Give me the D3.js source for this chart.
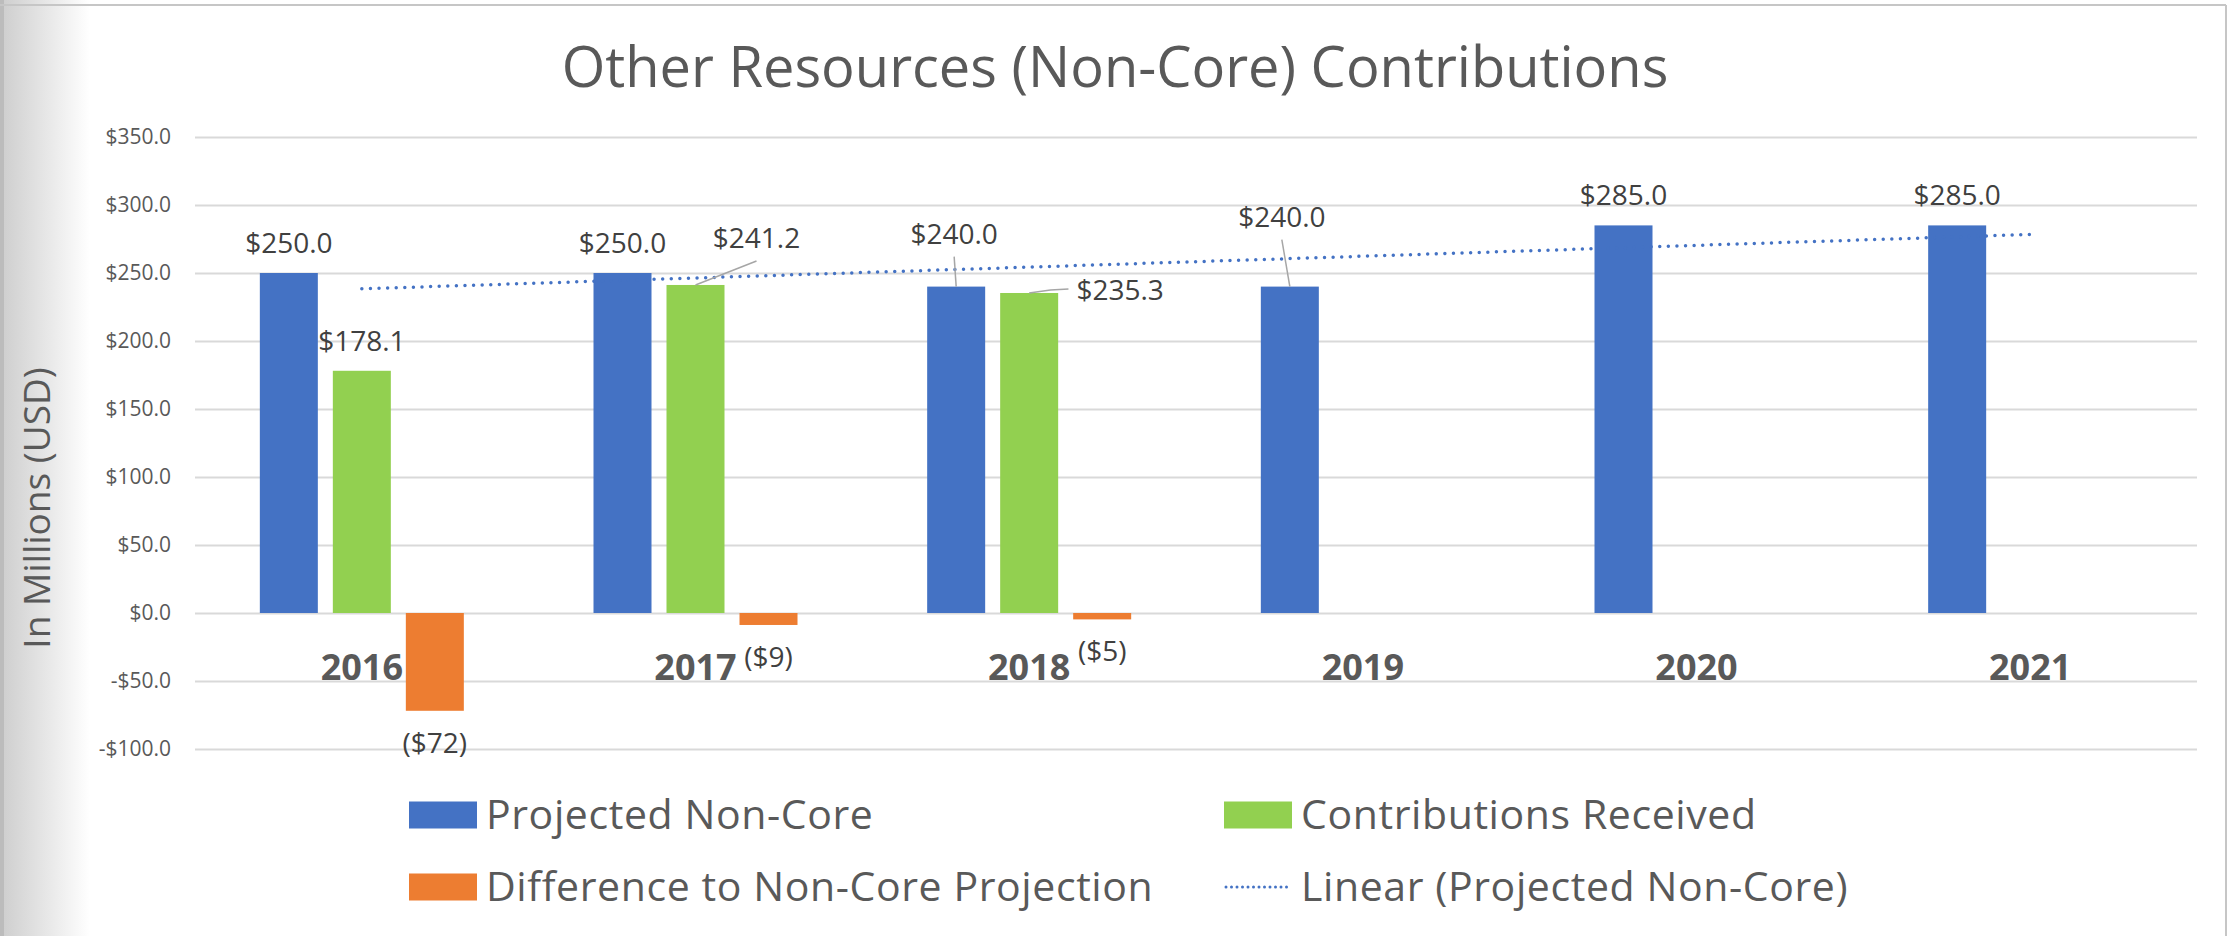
<!DOCTYPE html>
<html>
<head>
<meta charset="utf-8">
<script src="https://cdn.jsdelivr.net/npm/d3@7"></script>
<style>
  html, body { margin: 0; padding: 0; background: #fff; }
  svg { display: block; font-family: "Open Sans", sans-serif; }
</style>
</head>
<body>
<svg id="chart"></svg>
<script>
// values (USD millions)
const years = ["2016", "2017", "2018", "2019", "2020", "2021"];
const projected = [250.0, 250.0, 240.0, 240.0, 285.0, 285.0];
const received = [178.1, 241.2, 235.3, null, null, null];
const difference = [-71.9, -8.8, -4.7, null, null, null];
const yTicks = [-100, -50, 0, 50, 100, 150, 200, 250, 300, 350];

const seriesNames = ["Projected Non-Core", "Contributions Received", "Difference to Non-Core Projection"];
const seriesColors = ["#4472C4", "#92D050", "#ED7D31"];
const trendName = "Linear (Projected Non-Core)";

// labels that were dragged away from the bar in the original, with a leader line
const labelNudge = {
  "0-2018": { dx: -2, dy: -23, leader: "bottom" },
  "0-2019": { dx: -8, dy: -40, leader: "bottom" },
  "1-2017": { dx: 61, dy: -17, leader: "bottom" },
  "1-2018": { dx: 91, dy: 27, leader: "left" }
};

const width = 2231, height = 936;
const plot = { left: 195, right: 2197, top: 137, bottom: 749 };

const svg = d3.select("#chart").attr("width", width).attr("height", height);

// page frame / shadow like the screenshot
const defs = svg.append("defs");
const grad = defs.append("linearGradient").attr("id", "shade").attr("x1", 0).attr("x2", 1);
grad.append("stop").attr("offset", 0).attr("stop-color", "#cdcdcd");
grad.append("stop").attr("offset", 1).attr("stop-color", "#ffffff");
svg.append("rect").attr("x", 0).attr("y", 0).attr("width", 90).attr("height", height).attr("fill", "url(#shade)");
svg.append("rect").attr("x", 0).attr("y", 0).attr("width", 4).attr("height", height).attr("fill", "#bcbcbc");
svg.append("line").attr("x1", 0).attr("x2", 2226).attr("y1", 5).attr("y2", 5).attr("stroke", "#c6c6c6").attr("stroke-width", 2);
svg.append("line").attr("x1", 2226).attr("x2", 2226).attr("y1", 5).attr("y2", height).attr("stroke", "#c6c6c6").attr("stroke-width", 2);

// scales
const x = d3.scaleBand().domain(years).range([plot.left, plot.right]);
const groupW = 204;
const xInner = d3.scaleBand().domain(d3.range(3))
  .range([(x.bandwidth() - groupW) / 2, (x.bandwidth() + groupW) / 2])
  .paddingInner(15 / 73);
const y = d3.scaleLinear().domain([-100, 350]).range([plot.bottom, plot.top]);
const xMid = yr => x(yr) + x.bandwidth() / 2;

// title
svg.append("text")
  .attr("x", 1115).attr("y", 87)
  .attr("text-anchor", "middle")
  .attr("font-size", 56)
  .attr("fill", "#595959")
  .text("Other Resources (Non-Core) Contributions");

// y axis + gridlines
const gY = svg.append("g").attr("transform", `translate(${plot.left},0)`)
  .call(d3.axisLeft(y).tickValues(yTicks)
    .tickSize(-(plot.right - plot.left)).tickPadding(24)
    .tickFormat(d => (d < 0 ? "-$" : "$") + d3.format(".1f")(Math.abs(d))));
gY.select(".domain").remove();
gY.selectAll(".tick line").attr("stroke", "#d9d9d9").attr("stroke-width", 2);
gY.selectAll(".tick text").attr("font-size", 21).attr("fill", "#595959").attr("font-family", "Open Sans");

svg.append("text")
  .attr("transform", "translate(50,508) rotate(-90)")
  .attr("text-anchor", "middle")
  .attr("font-size", 37)
  .attr("fill", "#595959")
  .text("In Millions (USD)");

// bars
const allSeries = [projected, received, difference];
const gBars = svg.append("g");
allSeries.forEach((vals, s) => {
  const pts = years.map((yr, i) => ({ yr, v: vals[i] })).filter(d => d.v != null);
  gBars.selectAll(null).data(pts).join("rect")
    .attr("x", d => x(d.yr) + xInner(s))
    .attr("width", xInner.bandwidth())
    .attr("y", d => y(Math.max(0, d.v)))
    .attr("height", d => Math.abs(y(d.v) - y(0)))
    .attr("fill", seriesColors[s]);
});

// category labels
svg.append("g").selectAll("text").data(years).join("text")
  .attr("x", d => xMid(d))
  .attr("y", 680)
  .attr("text-anchor", "middle")
  .attr("font-size", 36)
  .attr("font-weight", 700)
  .attr("fill", "#595959")
  .text(d => d);

// linear trendline of projected (least squares, like Excel)
const xs = d3.range(1, projected.length + 1);
const mx = d3.mean(xs), my = d3.mean(projected);
const slope = d3.sum(xs, (v, i) => (v - mx) * (projected[i] - my)) / d3.sum(xs, v => (v - mx) ** 2);
const icpt = my - slope * mx;
const trendPts = [0, years.length - 1].map(i => [xMid(years[i]), y(icpt + slope * xs[i])]);
svg.append("path")
  .attr("d", d3.line()(trendPts))
  .attr("fill", "none")
  .attr("stroke", "#4472C4")
  .attr("stroke-width", 3.5)
  .attr("stroke-linecap", "round")
  .attr("stroke-dasharray", "0 8.6");

// data labels
const fmtPos = v => "$" + d3.format(".1f")(v);
const fmtNeg = v => "($" + Math.round(Math.abs(v)) + ")";
const gLabels = svg.append("g");
allSeries.forEach((vals, s) => {
  years.forEach((yr, i) => {
    const v = vals[i];
    if (v == null) return;
    const cx = x(yr) + xInner(s) + xInner.bandwidth() / 2;
    const barEnd = y(v);
    let lx = cx, ly = v >= 0 ? barEnd - 20 : barEnd + 42;
    const nudge = labelNudge[s + "-" + yr];
    if (nudge) { lx += nudge.dx; ly += nudge.dy; }
    const t = gLabels.append("text")
      .attr("x", lx).attr("y", ly)
      .attr("text-anchor", "middle")
      .attr("font-size", 28)
      .attr("fill", "#404040")
      .text(v >= 0 ? fmtPos(v) : fmtNeg(v));
    if (nudge) {
      const w = t.node().getComputedTextLength();
      let p;
      if (nudge.leader === "bottom") {
        p = `M${lx},${ly + 13}L${cx},${barEnd}`;
      } else {
        const left = lx - w / 2 - 8;
        p = `M${cx},${barEnd}L${left - 18},${ly - 10}L${left},${ly - 11}`;
      }
      gLabels.append("path").attr("d", p).attr("fill", "none")
        .attr("stroke", "#a6a6a6").attr("stroke-width", 1.5);
    }
  });
});

// legend
const legendItems = [
  { name: seriesNames[0], color: seriesColors[0], x: 409, y: 815 },
  { name: seriesNames[1], color: seriesColors[1], x: 1224, y: 815 },
  { name: seriesNames[2], color: seriesColors[2], x: 409, y: 887 },
  { name: trendName, color: "#4472C4", x: 1224, y: 887, dotted: true }
];
const lg = svg.append("g").selectAll("g").data(legendItems).join("g")
  .attr("transform", d => `translate(${d.x},${d.y})`);
lg.filter(d => !d.dotted).append("rect")
  .attr("x", 0).attr("y", -13.5).attr("width", 68).attr("height", 27)
  .attr("fill", d => d.color);
lg.filter(d => d.dotted).append("line")
  .attr("x1", 2).attr("x2", 66).attr("y1", 0).attr("y2", 0)
  .attr("stroke", d => d.color).attr("stroke-width", 3)
  .attr("stroke-linecap", "round").attr("stroke-dasharray", "0 5.5");
lg.append("text")
  .attr("x", 77).attr("y", 14)
  .attr("font-size", 41)
  .attr("letter-spacing", 0.6)
  .attr("fill", "#595959")
  .text(d => d.name);
</script>
</body>
</html>
